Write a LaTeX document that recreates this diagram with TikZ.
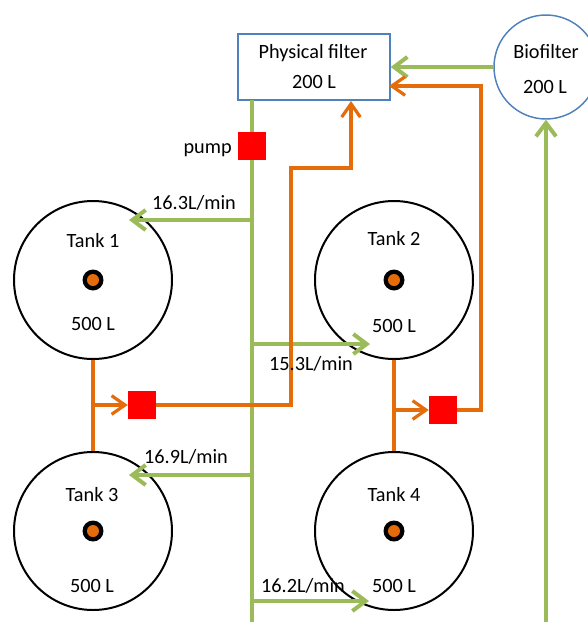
\documentclass[tikz,border=0pt]{standalone}
\usepackage{fontspec}
\setmainfont{Carlito}
\usetikzlibrary{arrows.meta}
\definecolor{pgreen}{HTML}{9BBB59}
\definecolor{porange}{HTML}{E46C0A}
\definecolor{pblue}{HTML}{4F81BD}
\definecolor{pred}{HTML}{FF0000}
\begin{document}
\begin{tikzpicture}[x=0.75pt,y=-0.75pt,
 txt/.style={font=\fontsize{15.2}{18}\selectfont, anchor=base, inner sep=0pt},
 tank/.style={circle, draw=black, line width=1.5pt, minimum size=118.5pt, inner sep=0pt},
 dotout/.style={circle, fill=black, minimum size=15.75pt, inner sep=0pt},
 dotin/.style={circle, fill=porange, minimum size=9pt, inner sep=0pt},
 sq/.style={fill=pred, minimum width=21pt, minimum height=21pt, inner sep=0pt},
 pfbox/.style={draw=pblue, line width=1.1pt, minimum width=114pt, minimum height=49.5pt, inner sep=0pt},
 biocirc/.style={circle, draw=pblue, line width=1.1pt, minimum size=78pt, inner sep=0pt},
 gline/.style={draw=pgreen, line width=3pt},
 oline/.style={draw=porange, line width=2.4pt},
 garr/.style={gline, -{Straight Barb[length=10pt,width=15pt]}},
 oarr/.style={oline, -{Straight Barb[length=10pt,width=14pt]}},
]
\useasboundingbox (0,0) rectangle (588,622);

% main nodes
\node[pfbox] (pf) at (314,67) {};
\node[biocirc] (bio) at (546,67) {};
\node[tank] (t1) at (93,280) {};
\node[tank] (t2) at (394,280) {};
\node[tank] (t3) at (93,531) {};
\node[tank] (t4) at (394,531) {};
\node[sq] (pump) at (252,146) {};
\node[sq] (sq1) at (142,405) {};
\node[sq] (sq2) at (443,410) {};

% tank centre dots
\foreach \t in {t1,t2,t3,t4}{
  \node[dotout] (\t d) at (\t.center) {};
  \node[dotin] (\t di) at (\t.center) {};
}

% coordinates
\coordinate (g0) at (252,100);
\coordinate (gbot) at (252,622);
\coordinate (b1) at (252,220);
\coordinate (e1) at (129,220);
\coordinate (b2) at (252,344);
\coordinate (e2) at (370,344);
\coordinate (b3) at (252,475);
\coordinate (e3) at (129,475);
\coordinate (b4) at (252,601);
\coordinate (e4) at (369,601);
\coordinate (gr) at (546,622);
\coordinate (o1) at (93,405);
\coordinate (o2) at (394,410);
\coordinate (p1a) at (291,405);
\coordinate (p1b) at (291,168);
\coordinate (p1c) at (351,168);
\coordinate (p1d) at (351,101);
\coordinate (p2a) at (481,410);
\coordinate (p2b) at (481,86);
\coordinate (p2c) at (389,86);

% green lines
\draw[gline] (g0) -- (pump);
\draw[gline] (pump) -- (gbot);
\draw[garr] (b1) -- (e1);
\draw[garr] (b2) -- (e2);
\draw[garr] (b3) -- (e3);
\draw[garr] (b4) -- (e4);
\draw[garr] (gr) -- (bio);
\draw[garr] (bio) -- (pf);

% orange lines
\draw[oline] (t1) -- (t3);
\draw[oline] (t2) -- (t4);
\draw[oarr] (o1) -- (sq1);
\draw[oarr] (o2) -- (sq2);
\draw[oarr] (sq1) -- (p1a) -- (p1b) -- (p1c) -- (p1d);
\draw[oarr] (sq2) -- (p2a) -- (p2b) -- (p2c);

% texts
\node[txt] (pft1) at (313,58) {Physical filter};
\node[txt] (pft2) at (314,88) {200 L};
\node[txt] (biot1) at (546,58) {Biofilter};
\node[txt] (biot2) at (545,93) {200 L};
\node[txt, anchor=base east] (pumpt) at (232,153) {pump};
\node[txt] (t1a) at (93,247) {Tank 1};
\node[txt] (t1b) at (93,330) {500 L};
\node[txt] (t2a) at (394,245) {Tank 2};
\node[txt] (t2b) at (394,332) {500 L};
\node[txt] (t3a) at (92,501) {Tank 3};
\node[txt] (t3b) at (92,592) {500 L};
\node[txt] (t4a) at (394,501) {Tank 4};
\node[txt] (t4b) at (394,592) {500 L};
\node[txt] (f1) at (194,209) {16.3L/min};
\node[txt] (f2) at (311,370) {15.3L/min};
\node[txt] (f3) at (186,463) {16.9L/min};
\node[txt] (f4) at (303,592) {16.2L/min};
\end{tikzpicture}
\end{document}
